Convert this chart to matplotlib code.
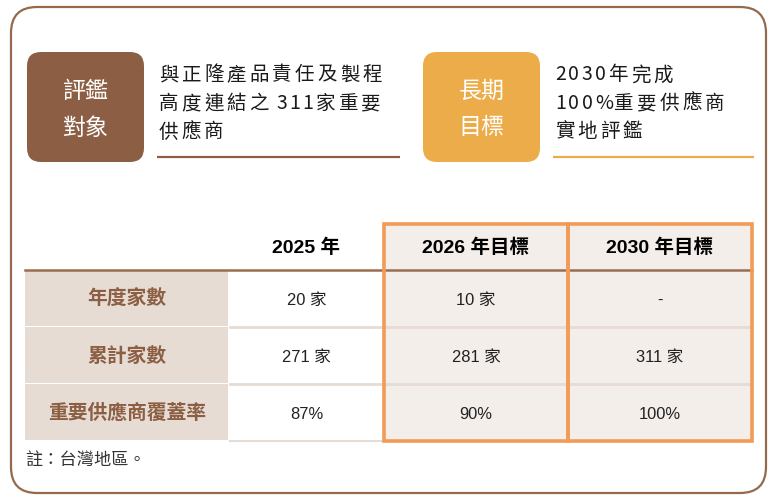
import matplotlib
matplotlib.use("Agg")
import matplotlib.pyplot as plt
from matplotlib.patches import FancyBboxPatch, Rectangle

plt.rcParams['font.family'] = ['Liberation Sans', 'Noto Sans CJK TC', 'DejaVu Sans']

# ---------------------------------------------
# DATA
# ---------------------------------------------
box_left_title = ["評鑑", "對象"]
box_left_text = ["與正隆產品責任及製程", "高度連結之 311家重要", "供應商"]
box_right_title = ["長期", "目標"]
box_right_text = ["2030年完成", "100%重要供應商", "實地評鑑"]

columns = ["2025 年", "2026 年目標", "2030 年目標"]
row_labels = ["年度家數", "累計家數", "重要供應商覆蓋率"]
annual_count = ["20 家", "10 家", "-"]
cumulative_count = ["271 家", "281 家", "311 家"]
coverage = ["87%", "90%", "100%"]
note = "註：台灣地區。"

BROWN = "#8C5F44"
ORANGE_BOX = "#EBAC49"
ORANGE_LINE = "#F19B57"
LABEL_FILL = "#E7DCD4"
TARGET_FILL = "#F3EEEA"
SEP = "#E6DCD4"

# ---------------------------------------------
# CANVAS IN PIXEL UNITS
# ---------------------------------------------
fig = plt.figure(figsize=(7.78, 5.02), dpi=100)
ax = fig.add_axes([0, 0, 1, 1])
ax.set_xlim(0, 778)
ax.set_ylim(502, 0)
ax.axis("off")

def pt(px):
    return px * 72 / 100

# outer frame
ax.add_patch(FancyBboxPatch((11, 8), 755, 486, boxstyle="round,pad=0,rounding_size=26",
                            fc="white", ec="#946a4c", lw=1.6))

# ---------------------------------------------
# TOP BOXES
# ---------------------------------------------
def spaced_line(x, y, text, size_px, cjk_adv, asc_adv, color="#1a1a1a"):
    for ch in text:
        ax.text(x, y, ch, fontsize=pt(size_px), color=color, va="center", ha="left",
                family=['Noto Sans CJK TC', 'DejaVu Sans'])
        if ch == " ":
            x += 4
        elif ch == "%":
            x += asc_adv * 1.45
        elif ord(ch) < 128:
            x += asc_adv
        else:
            x += cjk_adv

def title_box(x0, color, title, lines, line_color, line_x1):
    ax.add_patch(FancyBboxPatch((x0, 53), 117, 110, boxstyle="round,pad=0,rounding_size=14",
                                fc=color, ec="none"))
    for i, t in enumerate(title):
        ax.text(x0 + 58.5, 91 + i * 37, t, fontsize=pt(23), color="white",
                ha="center", va="center", family=['Noto Sans CJK TC'])
    tx = x0 + 132
    for i, t in enumerate(lines):
        spaced_line(tx, 75 + i * 28.5, t, 19.5, 22.6, 13.3)
    ax.plot([tx - 2, line_x1], [158, 158], color=line_color, lw=1.6, solid_capstyle="butt")

title_box(27, BROWN, box_left_title, box_left_text, BROWN, 400)
title_box(423, ORANGE_BOX, box_right_title, box_right_text, ORANGE_BOX, 754)

# ---------------------------------------------
# TABLE
# ---------------------------------------------
col_x = [25, 229, 384, 568, 752]
header_y = 248
row_y = [271, 328, 385, 442]
rows = [annual_count, cumulative_count, coverage]

# target columns fill
ax.add_patch(Rectangle((col_x[2], 225), col_x[4] - col_x[2], row_y[-1] - 225,
                       fc=TARGET_FILL, ec="none"))

for r, label in enumerate(row_labels):
    y0, y1 = row_y[r], row_y[r + 1]
    ax.add_patch(Rectangle((col_x[0], y0), col_x[1] - col_x[0] - 1, y1 - y0 - 1.5,
                           fc=LABEL_FILL, ec="none"))
    ax.text((col_x[0] + col_x[1]) / 2, (y0 + y1) / 2, label, fontsize=pt(19.8),
            color=BROWN, fontweight="bold", ha="center", va="center",
            family=['Noto Sans CJK TC'])
    if r < len(row_labels) - 1:
        ax.plot([col_x[1] + 1, col_x[4]], [y1, y1], color=SEP, lw=2, zorder=2)
    for c, val in enumerate(rows[r]):
        ax.text((col_x[c + 1] + col_x[c + 2]) / 2, (y0 + y1) / 2 + 1, val,
                fontsize=pt(16.5), color="#222222", ha="center", va="center")

ax.plot([col_x[1] + 1, col_x[2]], [row_y[-1] - 0.5, row_y[-1] - 0.5], color=SEP, lw=1.5)

for c, col in enumerate(columns):
    ax.text((col_x[c + 1] + col_x[c + 2]) / 2, header_y, col, fontsize=pt(19.5),
            color="black", fontweight="bold", ha="center", va="center")

ax.plot([col_x[0], col_x[4]], [row_y[0], row_y[0]], color="#9a6d50", lw=1.8, zorder=3)

# orange target frame
for xs in (col_x[2], col_x[3]):
    ax.add_patch(Rectangle((xs, 225), col_x[3] - col_x[2] if xs == col_x[2] else col_x[4] - col_x[3],
                           row_y[-1] - 225, fc="none", ec=ORANGE_LINE, lw=2.6, zorder=4))

ax.text(col_x[0], 460, note, fontsize=pt(17.2), color="#333333", ha="left", va="center",
        family=['Noto Sans CJK TC'])

fig.savefig("out.png", dpi=100)
